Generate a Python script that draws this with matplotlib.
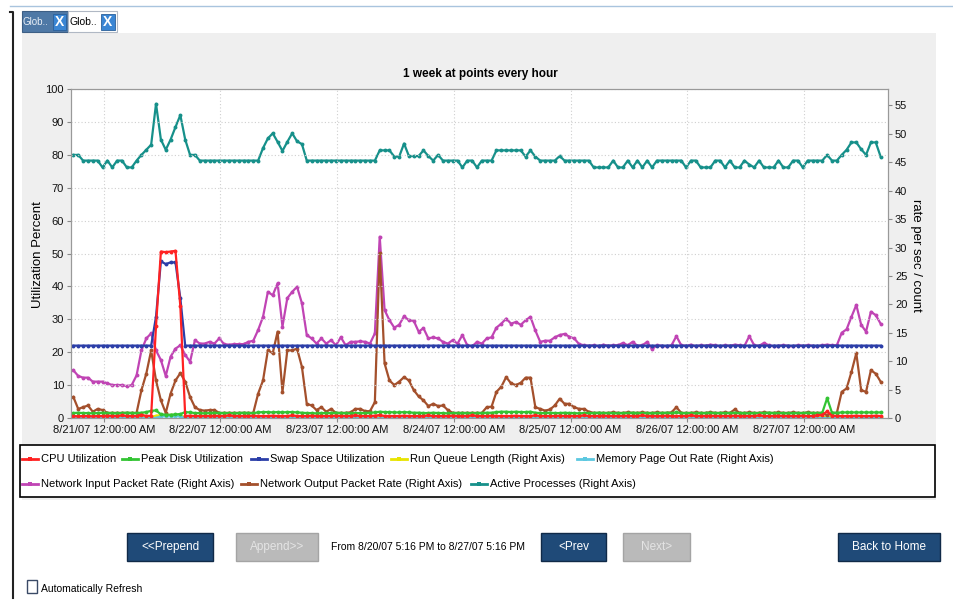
import matplotlib
matplotlib.use("Agg")
import matplotlib.pyplot as plt
from matplotlib.patches import Rectangle
from datetime import datetime, timedelta

plt.rcParams["font.family"] = ["Liberation Sans Narrow", "Liberation Sans", "DejaVu Sans"]

# ---- data: one point per hour, 8/20/07 17:45 -> 8/27/07 16:45 ----
first_point = datetime(2007, 8, 20, 17, 45)
range_start = datetime(2007, 8, 20, 17, 16)
range_end = datetime(2007, 8, 27, 17, 16)

tick_days = [datetime(2007, 8, d) for d in range(21, 28)]
tick_labels = ["8/21/07 12:00:00 AM", "8/22/07 12:00:00 AM", "8/23/07 12:00:00 AM",
               "8/24/07 12:00:00 AM", "8/25/07 12:00:00 AM", "8/26/07 12:00:00 AM",
               "8/27/07 12:00:00 AM"]

# left axis (percent)
cpu_util = [
    0.6, 0.5, 0.6, 0.6, 0.5, 0.6, 0.6, 0.7, 0.6, 0.6,
    0.8, 0.6, 0.6, 0.6, 1.0, 0.6, 0.7, 28.0, 50.6, 50.4,
    50.6, 50.8, 34.0, 0.6, 0.7, 0.6, 0.6, 0.6, 0.6, 0.7,
    0.6, 0.6, 0.8, 0.6, 0.6, 0.6, 0.6, 0.7, 0.6, 0.6,
    0.6, 0.7, 0.6, 0.6, 0.6, 0.8, 0.6, 0.6, 0.6, 0.7,
    0.6, 0.6, 0.6, 0.6, 0.7, 0.6, 0.6, 0.6, 0.8, 0.6,
    0.6, 0.6, 0.7, 0.9, 0.6, 0.6, 0.6, 0.6, 0.7, 0.6,
    0.6, 0.6, 0.6, 0.8, 0.6, 0.6, 0.6, 0.6, 0.7, 0.6,
    0.6, 0.6, 0.8, 0.6, 0.6, 0.6, 0.7, 0.6, 0.6, 0.6,
    0.6, 0.7, 0.6, 0.6, 0.6, 0.8, 0.6, 0.6, 0.6, 0.6,
    0.7, 0.6, 0.6, 0.6, 0.6, 0.8, 0.6, 0.6, 0.6, 0.7,
    0.6, 0.6, 0.6, 0.6, 0.7, 0.6, 0.6, 0.8, 0.6, 0.6,
    0.6, 0.6, 0.7, 0.6, 0.6, 0.6, 0.6, 0.8, 0.6, 0.6,
    0.6, 0.7, 0.6, 0.6, 0.6, 0.6, 0.7, 0.6, 0.6, 0.6,
    0.6, 0.8, 0.6, 0.6, 0.6, 0.7, 0.6, 0.6, 0.6, 0.6,
    0.7, 0.6, 0.6, 0.8, 1.0, 2.0, 0.7, 0.6, 0.6, 0.6,
    0.6, 0.7, 0.6, 0.6, 0.6, 0.7, 0.6]
peak_disk = [
    1.5, 1.6, 1.5, 1.5, 1.4, 1.5, 1.6, 1.5, 1.5, 1.4,
    1.5, 1.6, 1.5, 1.5, 1.6, 1.8, 2.2, 2.3, 1.1, 1.0,
    1.0, 1.1, 1.2, 1.8, 1.7, 1.5, 1.5, 1.4, 1.5, 1.6,
    1.5, 1.5, 1.5, 1.4, 1.5, 1.6, 1.5, 1.5, 1.7, 1.8,
    1.8, 1.7, 1.8, 1.7, 1.8, 1.8, 1.7, 1.6, 1.5, 1.5,
    1.4, 1.5, 1.5, 1.5, 1.6, 1.5, 1.5, 1.4, 1.5, 1.5,
    1.5, 1.6, 1.7, 1.9, 1.8, 1.8, 1.7, 1.7, 1.8, 1.7,
    1.6, 1.6, 1.5, 1.5, 1.6, 1.5, 1.5, 1.4, 1.5, 1.5,
    1.5, 1.5, 1.4, 1.5, 1.5, 1.6, 1.6, 1.8, 1.9, 1.9,
    1.8, 1.9, 1.8, 1.8, 1.9, 1.6, 1.5, 1.5, 1.6, 1.5,
    1.5, 1.6, 1.5, 1.5, 1.4, 1.5, 1.5, 1.5, 1.6, 1.5,
    1.5, 1.5, 1.4, 1.5, 1.5, 1.6, 1.5, 1.5, 1.5, 1.4,
    1.5, 1.5, 1.6, 1.5, 1.7, 1.5, 1.5, 1.5, 1.4, 1.5,
    1.5, 1.6, 1.5, 1.5, 1.5, 1.5, 1.6, 1.5, 1.5, 1.4,
    1.5, 1.5, 1.5, 1.6, 1.5, 1.5, 1.5, 1.4, 1.5, 1.5,
    1.5, 1.6, 1.5, 1.5, 1.6, 6.0, 1.6, 1.6, 1.7, 1.7,
    1.7, 1.7, 1.7, 1.7, 1.7, 1.7, 1.7]
swap_util = [
    22.0, 22.0, 22.0, 22.0, 22.0, 22.0, 22.0, 22.0, 22.0, 22.0,
    22.0, 22.0, 22.0, 22.0, 22.0, 22.0, 22.0, 30.8, 47.6, 46.8,
    47.3, 47.3, 36.4, 22.0, 22.0, 22.0, 22.0, 22.0, 22.0, 22.0,
    22.0, 22.0, 22.0, 22.0, 22.0, 22.0, 22.0, 22.0, 22.0, 22.0,
    22.0, 22.0, 22.0, 22.0, 22.0, 22.0, 22.0, 22.0, 22.0, 22.0,
    22.0, 22.0, 22.0, 22.0, 22.0, 22.0, 22.0, 22.0, 22.0, 22.0,
    22.0, 22.0, 22.0, 22.0, 22.0, 22.0, 22.0, 22.0, 22.0, 22.0,
    22.0, 22.0, 22.0, 22.0, 22.0, 22.0, 22.0, 22.0, 22.0, 22.0,
    22.0, 22.0, 22.0, 22.0, 22.0, 22.0, 22.0, 22.0, 22.0, 22.0,
    22.0, 22.0, 22.0, 22.0, 22.0, 22.0, 22.0, 22.0, 22.0, 22.0,
    22.0, 22.0, 22.0, 22.0, 22.0, 22.0, 22.0, 22.0, 22.0, 22.0,
    22.0, 22.0, 22.0, 22.0, 22.0, 22.0, 22.0, 22.0, 22.0, 22.0,
    22.0, 22.0, 22.0, 22.0, 22.0, 22.0, 22.0, 22.0, 22.0, 22.0,
    22.0, 22.0, 22.0, 22.0, 22.0, 22.0, 22.0, 22.0, 22.0, 22.0,
    22.0, 22.0, 22.0, 22.0, 22.0, 22.0, 22.0, 22.0, 22.0, 22.0,
    22.0, 22.0, 22.0, 22.0, 22.0, 22.0, 22.0, 22.0, 22.0, 22.0,
    22.0, 22.0, 22.0, 22.0, 22.0, 22.0, 22.0]

# right axis (rate per sec / count)
run_queue = [
    0.2, 0.2, 0.2, 0.2, 0.2, 0.2, 0.2, 0.2, 0.2, 0.2,
    0.2, 0.2, 0.2, 0.2, 0.2, 0.2, 0.2, 0.4, 0.5, 0.5,
    0.5, 0.5, 0.4, 0.2, 0.2, 0.2, 0.2, 0.2, 0.2, 0.2,
    0.2, 0.2, 0.2, 0.2, 0.2, 0.2, 0.2, 0.2, 0.2, 0.2,
    0.2, 0.2, 0.2, 0.2, 0.2, 0.2, 0.2, 0.2, 0.2, 0.2,
    0.2, 0.2, 0.2, 0.2, 0.2, 0.2, 0.2, 0.2, 0.2, 0.2,
    0.2, 0.2, 0.2, 0.3, 0.2, 0.2, 0.2, 0.2, 0.2, 0.2,
    0.2, 0.2, 0.2, 0.2, 0.2, 0.2, 0.2, 0.2, 0.2, 0.2,
    0.2, 0.2, 0.2, 0.2, 0.2, 0.2, 0.2, 0.2, 0.2, 0.2,
    0.2, 0.2, 0.2, 0.2, 0.2, 0.2, 0.2, 0.2, 0.2, 0.2,
    0.2, 0.2, 0.2, 0.2, 0.2, 0.2, 0.2, 0.2, 0.2, 0.2,
    0.2, 0.2, 0.2, 0.2, 0.2, 0.2, 0.2, 0.2, 0.2, 0.2,
    0.2, 0.2, 0.2, 0.2, 0.2, 0.2, 0.2, 0.2, 0.2, 0.2,
    0.2, 0.2, 0.2, 0.2, 0.2, 0.2, 0.2, 0.2, 0.2, 0.2,
    0.2, 0.2, 0.2, 0.2, 0.2, 0.2, 0.2, 0.2, 0.2, 0.2,
    0.2, 0.2, 0.2, 0.2, 0.2, 0.2, 0.2, 0.2, 0.2, 0.2,
    0.2, 0.2, 0.2, 0.2, 0.2, 0.2, 0.2]
mem_page_out = [
    0.0, 0.0, 0.0, 0.0, 0.0, 0.0, 0.0, 0.0, 0.0, 0.0,
    0.0, 0.0, 0.0, 0.0, 0.0, 0.0, 0.0, 0.0, 0.3, 0.3,
    0.3, 0.3, 0.3, 0.0, 0.0, 0.0, 0.0, 0.0, 0.0, 0.0,
    0.0, 0.0, 0.0, 0.0, 0.0, 0.0, 0.0, 0.0, 0.0, 0.0,
    0.0, 0.0, 0.0, 0.0, 0.0, 0.0, 0.0, 0.0, 0.0, 0.0,
    0.0, 0.0, 0.0, 0.0, 0.0, 0.0, 0.0, 0.0, 0.0, 0.0,
    0.0, 0.0, 0.0, 0.0, 0.0, 0.0, 0.0, 0.0, 0.0, 0.0,
    0.0, 0.0, 0.0, 0.0, 0.0, 0.0, 0.0, 0.0, 0.0, 0.0,
    0.0, 0.0, 0.0, 0.0, 0.0, 0.0, 0.0, 0.0, 0.0, 0.0,
    0.0, 0.0, 0.0, 0.0, 0.0, 0.0, 0.0, 0.0, 0.0, 0.0,
    0.0, 0.0, 0.0, 0.0, 0.0, 0.0, 0.0, 0.0, 0.0, 0.0,
    0.0, 0.0, 0.0, 0.0, 0.0, 0.0, 0.0, 0.0, 0.0, 0.0,
    0.0, 0.0, 0.0, 0.0, 0.0, 0.0, 0.0, 0.0, 0.0, 0.0,
    0.0, 0.0, 0.0, 0.0, 0.0, 0.0, 0.0, 0.0, 0.0, 0.0,
    0.0, 0.0, 0.0, 0.0, 0.0, 0.0, 0.0, 0.0, 0.0, 0.0,
    0.0, 0.0, 0.0, 0.0, 0.0, 0.0, 0.0, 0.0, 0.0, 0.0,
    0.0, 0.0, 0.0, 0.0, 0.0, 0.0, 0.0]
net_in = [
    8.4, 7.4, 7.1, 7.1, 6.4, 6.4, 6.4, 6.1, 5.8, 5.8,
    5.8, 5.6, 5.8, 7.5, 11.9, 14.0, 14.9, 11.9, 10.2, 7.4,
    10.8, 12.2, 12.8, 11.1, 9.9, 13.7, 13.1, 13.1, 13.4, 13.1,
    14.0, 13.0, 12.9, 13.0, 13.0, 13.0, 13.4, 13.6, 15.5, 17.8,
    22.2, 21.6, 23.7, 16.1, 21.1, 22.2, 23.1, 20.2, 14.6, 14.0,
    13.1, 14.0, 13.1, 13.7, 12.8, 14.2, 12.8, 13.4, 13.4, 13.5,
    13.4, 13.1, 14.9, 31.9, 19.0, 17.2, 15.9, 16.4, 17.9, 17.2,
    17.1, 15.2, 15.8, 14.0, 14.2, 14.0, 13.4, 13.1, 13.7, 13.1,
    14.6, 12.8, 12.6, 13.4, 13.1, 14.0, 14.2, 15.9, 16.6, 17.5,
    16.6, 16.9, 16.4, 17.2, 17.8, 15.4, 13.4, 13.6, 13.6, 14.2,
    14.6, 14.8, 14.3, 14.0, 13.0, 12.8, 12.7, 12.8, 12.6, 12.9,
    12.7, 12.8, 12.8, 13.2, 12.8, 13.4, 12.7, 12.8, 13.4, 12.1,
    12.8, 12.7, 12.6, 12.8, 14.4, 12.8, 12.7, 12.9, 12.6, 12.8,
    12.7, 12.9, 12.8, 12.6, 12.8, 12.7, 12.9, 12.8, 12.7, 14.4,
    12.8, 12.7, 13.2, 12.8, 12.6, 12.7, 12.8, 12.7, 12.6, 12.8,
    12.7, 12.8, 12.7, 12.6, 12.8, 12.9, 12.8, 12.8, 15.0, 15.6,
    17.8, 19.9, 16.4, 15.2, 18.7, 18.1, 16.6]
net_out = [
    3.7, 1.6, 1.9, 2.2, 1.1, 1.6, 1.4, 0.9, 0.9, 0.9,
    0.9, 0.9, 0.9, 0.9, 4.9, 7.8, 11.9, 6.6, 3.1, 0.9,
    4.3, 6.6, 7.9, 6.4, 3.7, 1.9, 1.4, 1.3, 1.4, 1.4,
    0.9, 0.9, 0.9, 0.9, 0.9, 0.9, 0.9, 0.9, 4.3, 6.6,
    11.9, 11.4, 15.2, 4.6, 11.9, 11.9, 12.2, 9.0, 2.5, 2.2,
    1.4, 1.9, 1.1, 1.6, 0.9, 0.9, 0.9, 1.0, 1.6, 1.6,
    1.2, 1.2, 2.8, 29.0, 9.6, 6.6, 5.8, 6.4, 7.2, 6.6,
    4.9, 3.8, 3.1, 2.1, 2.5, 2.1, 2.2, 1.4, 0.9, 0.9,
    0.9, 0.9, 0.9, 0.9, 0.9, 1.9, 2.0, 4.6, 5.5, 7.2,
    6.1, 5.8, 6.2, 7.1, 7.1, 1.9, 1.6, 1.3, 1.5, 2.2,
    3.4, 2.5, 2.5, 1.9, 1.6, 1.6, 1.1, 0.9, 0.9, 0.9,
    0.9, 1.0, 0.9, 0.9, 1.0, 0.9, 0.9, 1.0, 0.9, 0.9,
    1.0, 0.9, 0.9, 1.0, 1.9, 0.9, 0.9, 0.9, 1.0, 0.9,
    0.9, 1.0, 0.9, 0.9, 1.0, 0.9, 1.5, 0.9, 0.9, 1.0,
    0.9, 0.9, 1.0, 0.9, 0.9, 1.0, 0.9, 0.9, 1.0, 0.9,
    0.9, 1.0, 0.9, 0.9, 0.9, 0.5, 0.9, 0.9, 4.6, 5.2,
    8.1, 11.4, 4.9, 4.6, 8.4, 7.8, 6.4]
active_processes = [
    46.3, 46.3, 45.3, 45.3, 45.3, 45.3, 44.1, 45.3, 44.1, 45.3,
    45.3, 44.1, 44.1, 45.3, 46.3, 47.2, 48.1, 55.3, 49.0, 47.2,
    49.0, 51.2, 53.3, 49.0, 46.3, 46.3, 45.3, 45.3, 45.3, 45.3,
    45.3, 45.3, 45.3, 45.3, 45.3, 45.3, 45.3, 45.3, 45.3, 47.5,
    49.2, 50.1, 48.6, 47.0, 48.6, 50.1, 48.7, 48.2, 45.3, 45.3,
    45.3, 45.3, 45.3, 45.3, 45.3, 45.3, 45.3, 45.3, 45.3, 45.3,
    45.3, 45.3, 45.3, 47.1, 47.1, 47.1, 46.0, 46.0, 48.3, 46.1,
    46.1, 46.1, 47.1, 46.1, 45.3, 46.3, 45.3, 45.3, 45.3, 45.3,
    44.1, 45.3, 45.3, 44.1, 45.3, 45.3, 45.3, 47.1, 47.1, 47.1,
    47.1, 47.1, 47.1, 46.0, 47.1, 46.0, 45.3, 45.3, 45.3, 45.3,
    46.1, 45.3, 45.3, 45.3, 45.3, 45.3, 45.3, 44.1, 44.1, 44.1,
    44.1, 45.3, 44.1, 44.1, 45.3, 44.1, 45.3, 44.1, 45.3, 44.1,
    45.3, 45.3, 45.3, 45.3, 45.3, 45.3, 44.1, 45.3, 45.3, 44.1,
    44.1, 44.1, 45.3, 45.3, 44.1, 45.3, 44.1, 44.1, 45.3, 44.6,
    44.1, 45.3, 44.1, 44.1, 44.1, 45.3, 44.1, 44.1, 45.3, 45.3,
    44.1, 45.3, 45.3, 45.3, 45.3, 46.3, 45.3, 45.3, 46.3, 47.2,
    48.5, 48.5, 47.3, 46.3, 48.5, 48.5, 46.0]

series_labels = ["CPU Utilization", "Peak Disk Utilization", "Swap Space Utilization",
                 "Run Queue Length (Right Axis)", "Memory Page Out Rate (Right Axis)",
                 "Network Input Packet Rate (Right Axis)",
                 "Network Output Packet Rate (Right Axis)", "Active Processes (Right Axis)"]
series_colors = ["#ff2222", "#33c433", "#2b3ea8", "#e8e400", "#5cc8e0",
                 "#c044b4", "#a4502c", "#16908a"]

times = [first_point + timedelta(hours=i) for i in range(len(active_processes))]

W, H = 954, 602
fig = plt.figure(figsize=(W / 100, H / 100), dpi=100)
fig.patch.set_facecolor("white")

# page decorations in pixel coordinates
bg = fig.add_axes([0, 0, 1, 1])
bg.set_xlim(0, W)
bg.set_ylim(H, 0)
bg.axis("off")


def box(x0, y0, x1, y1, **kw):
    bg.add_patch(Rectangle((x0, y0), x1 - x0, y1 - y0, **kw))


bg.plot([10, W], [6, 6], color="#a9c4de", lw=1)
bg.plot([10, 13, 13], [12, 12, 598], color="#222222", lw=1.5)
box(22, 33, 936, 500, facecolor="#efefef", edgecolor="none")

# tabs
box(22, 11, 68, 32, facecolor="#4f79a6", edgecolor="#3d5f85", lw=0.8)
bg.text(23, 22, "Glob..", color="#e8eef5", fontsize=7, va="center")
box(53, 14, 66, 30, facecolor="#3a86d4", edgecolor="#2a5f9a", lw=0.6)
bg.text(59.5, 22, "X", color="white", fontsize=10, fontweight="bold", ha="center", va="center")
box(68, 11, 117, 32, facecolor="white", edgecolor="#b0b8c4", lw=0.8)
bg.text(70, 22, "Glob..", color="black", fontsize=7.5, va="center")
box(101, 14, 115, 30, facecolor="#3a86d4", edgecolor="#2a5f9a", lw=0.6)
bg.text(108, 22, "X", color="white", fontsize=10, fontweight="bold", ha="center", va="center")

bg.text(480, 74, "1 week at points every hour", ha="center", va="center",
        fontsize=8.5, fontweight="bold")
bg.text(38, 255, "Utilization Percent", rotation=90, ha="center", va="center",
        fontsize=9.5, family=["Liberation Sans", "DejaVu Sans"])
bg.text(916, 255, "rate per sec / count", rotation=270, ha="center", va="center",
        fontsize=9.5, family=["Liberation Sans", "DejaVu Sans"])

# chart
ax = fig.add_axes([71 / W, 1 - 418 / H, 817 / W, 329 / H])
ax2 = ax.twinx()
ax.set_zorder(ax2.get_zorder() + 1)
ax.patch.set_visible(False)
ax2.patch.set_visible(True)
ax2.patch.set_facecolor("white")

style = dict(lw=1.6, marker="o", ms=2.8, mew=0, solid_joinstyle="round")
right_series = [run_queue, mem_page_out, net_in, net_out, active_processes]
for vals, col in zip(right_series, series_colors[3:]):
    ax2.plot(times, vals, color=col, **style)
left_series = [cpu_util, peak_disk, swap_util]
for idx in [1, 2, 0]:
    ax.plot(times, left_series[idx], color=series_colors[idx], **style)

ax.set_xlim(range_start, range_end)
ax.set_ylim(0, 100)
ax.set_yticks(range(0, 101, 10))
ax2.set_ylim(0, 57.9)
ax2.set_yticks(range(0, 56, 5))
ax.set_xticks(tick_days)
ax.set_xticklabels(tick_labels)
ax.grid(True, color="#cfcfcf", ls=(0, (1, 2)), lw=0.8)

for a in (ax, ax2):
    a.tick_params(labelsize=8, length=3, color="#888888", pad=2, labelcolor="#111111")
    for sp in a.spines.values():
        sp.set_color("#999999")
        sp.set_linewidth(0.8)

# legend
box(20, 445, 935, 497, facecolor="white", edgecolor="black", lw=1.2)
legend_pos = [(22, 459), (122, 459), (251, 459), (391, 459), (577, 459),
              (22, 484), (241, 484), (471, 484)]
for (lx, ly), lab, col in zip(legend_pos, series_labels, series_colors):
    bg.plot([lx, lx + 16], [ly, ly], color=col, lw=2)
    bg.plot([lx + 8], [ly], color=col, marker="s", ms=3.5, mew=0)
    bg.text(lx + 19, ly, lab, fontsize=8, va="center")

# buttons
buttons = [(127, 213, "<<Prepend", True), (236, 318, "Append>>", False),
           (541, 606, "<Prev", True), (623, 690, "Next>", False),
           (838, 940, "Back to Home", True)]
for x0, x1, lab, enabled in buttons:
    if enabled:
        box(x0, 533, x1, 561, facecolor="#1f4a78", edgecolor="#102a48", lw=1)
        tc = "white"
    else:
        box(x0, 533, x1, 561, facecolor="#bababa", edgecolor="#a4a4a4", lw=1)
        tc = "#e4e4e4"
    bg.text((x0 + x1) / 2, 547, lab, color=tc, fontsize=8.5, ha="center", va="center")

bg.text(428, 547, "From 8/20/07 5:16 PM to 8/27/07 5:16 PM", fontsize=7.5,
        ha="center", va="center")

box(27, 580, 37, 593, facecolor="white", edgecolor="#3a4a66", lw=1)
bg.text(41, 589, "Automatically Refresh", fontsize=7.5, va="center")

fig.savefig("out.png", dpi=100)
